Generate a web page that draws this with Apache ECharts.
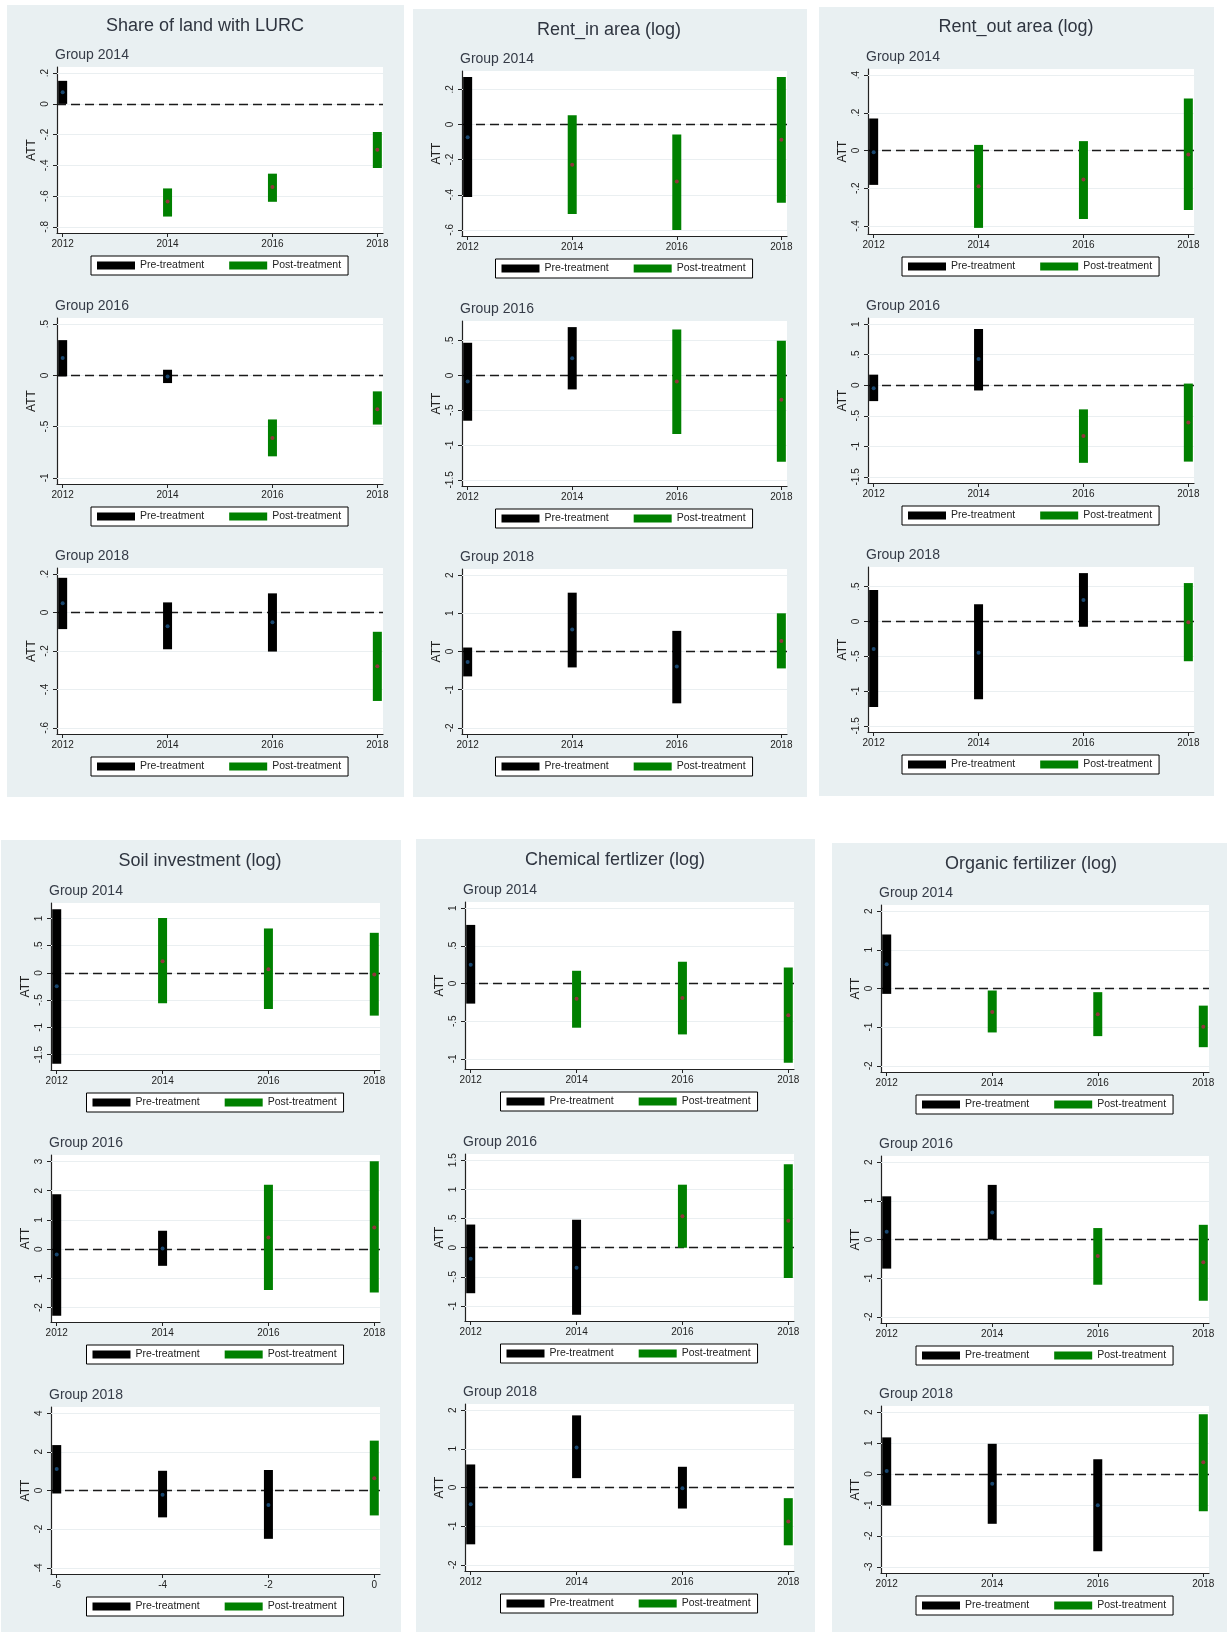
<!DOCTYPE html>
<html>
<head>
<meta charset="utf-8">
<title>Event-study ATT estimates</title>
<script src="https://cdn.jsdelivr.net/npm/echarts@6/dist/echarts.min.js"></script>
<style>
  html, body { margin: 0; padding: 0; background: #ffffff; }
  #wrap { position: relative; width: 1227px; height: 1632px; }
  .panel { position: absolute; background: #e9f0f2; }
  #chart { position: absolute; left: 0; top: 0; width: 1227px; height: 1632px; }
</style>
</head>
<body>
<div id="wrap">
  <div id="chart"></div>
</div>
<script>
// ---------- data ----------
const years = [2012, 2014, 2016, 2018];
const eventTime = [-6, -4, -2, 0];
const groupNames = ['Group 2014', 'Group 2016', 'Group 2018'];
const treatYears = [2014, 2016, 2018];
const outcomeTitles = [
  'Share of land with LURC', 'Rent_in area (log)', 'Rent_out area (log)',
  'Soil investment (log)', 'Chemical fertlizer (log)', 'Organic fertilizer (log)'
];

// Share of land with LURC
const lurcAtt  = [[0.076, -0.635, -0.541, -0.298], [0.17, -0.01, -0.61, -0.33], [0.048, -0.071, -0.05, -0.279]];
const lurcLow  = [[0, -0.733, -0.637, -0.417], [-0.01, -0.075, -0.79, -0.48], [-0.086, -0.191, -0.203, -0.46]];
const lurcHigh = [[0.15, -0.55, -0.454, -0.183], [0.344, 0.055, -0.43, -0.156], [0.181, 0.053, 0.1, -0.1]];
const lurcTicks = [[-0.8, -0.6, -0.4, -0.2, 0, 0.2], [-1, -0.5, 0, 0.5], [-0.6, -0.4, -0.2, 0, 0.2]];

// Rent-in area
const rentInAtt  = [[-0.072, -0.229, -0.324, -0.086], [-0.086, 0.248, -0.086, -0.35], [-0.278, 0.574, -0.39, 0.278]];
const rentInLow  = [[-0.413, -0.51, -0.6, -0.446], [-0.65, -0.2, -0.84, -1.24], [-0.652, -0.417, -1.357, -0.443]];
const rentInHigh = [[0.27, 0.053, -0.057, 0.27], [0.47, 0.695, 0.66, 0.5], [0.104, 1.54, 0.54, 1.0]];
const rentInTicks = [[-0.6, -0.4, -0.2, 0, 0.2], [-1.5, -1, -0.5, 0, 0.5], [-2, -1, 0, 1, 2]];

// Rent-out area
const rentOutAtt  = [[-0.009, -0.189, -0.154, -0.021], [-0.05, 0.43, -0.83, -0.61], [-0.395, -0.448, 0.31, -0.01]];
const rentOutLow  = [[-0.182, -0.41, -0.363, -0.315], [-0.26, -0.086, -1.27, -1.25], [-1.229, -1.119, -0.076, -0.571]];
const rentOutHigh = [[0.17, 0.03, 0.05, 0.276], [0.173, 0.92, -0.395, 0.027], [0.452, 0.248, 0.695, 0.552]];
const rentOutTicks = [[-0.4, -0.2, 0, 0.2, 0.4], [-1.5, -1, -0.5, 0, 0.5, 1], [-1.5, -1, -0.5, 0, 0.5]];

// Soil investment
const soilAtt  = [[-0.245, 0.215, 0.067, -0.03], [-0.18, 0.02, 0.40, 0.745], [1.116, -0.22, -0.755, 0.64]];
const soilLow  = [[-1.67, -0.558, -0.663, -0.785], [-2.28, -0.57, -1.395, -1.48], [-0.155, -1.39, -2.5, -1.29]];
const soilHigh = [[1.17, 1.006, 0.816, 0.736], [1.88, 0.63, 2.2, 3.01], [2.35, 1.02, 1.06, 2.58]];
const soilTicks = [[-1.5, -1, -0.5, 0, 0.5, 1], [-2, -1, 0, 1, 2, 3], [-4, -2, 0, 2, 4]];

// Chemical fertilizer
const chemAtt  = [[0.249, -0.204, -0.191, -0.422], [-0.19, -0.345, 0.54, 0.46], [-0.432, 1.037, -0.017, -0.88]];
const chemLow  = [[-0.267, -0.587, -0.676, -1.053], [-0.78, -1.15, 0.0, -0.517], [-1.47, 0.242, -0.544, -1.495]];
const chemHigh = [[0.778, 0.169, 0.289, 0.213], [0.397, 0.478, 1.08, 1.43], [0.596, 1.866, 0.536, -0.276]];
const chemTicks = [[-1, -0.5, 0, 0.5, 1], [-1, -0.5, 0, 0.5, 1, 1.5], [-2, -1, 0, 1, 2]];

// Organic fertilizer
const orgAtt  = [[0.625, -0.607, -0.668, -0.989], [0.2, 0.70, -0.43, -0.587], [0.098, -0.315, -1.01, 0.38]];
const orgLow  = [[-0.139, -1.137, -1.232, -1.518], [-0.753, 0.0, -1.17, -1.585], [-1.02, -1.609, -2.5, -1.207]];
const orgHigh = [[1.397, -0.052, -0.095, -0.443], [1.117, 1.413, 0.296, 0.38], [1.185, 0.978, 0.478, 1.935]];
const orgTicks = [[-2, -1, 0, 1, 2], [-2, -1, 0, 1, 2], [-3, -2, -1, 0, 1, 2]];

const outcomes = [
  { att: lurcAtt, low: lurcLow, high: lurcHigh, ticks: lurcTicks, xs: [years, years, years], starts: treatYears },
  { att: rentInAtt, low: rentInLow, high: rentInHigh, ticks: rentInTicks, xs: [years, years, years], starts: treatYears },
  { att: rentOutAtt, low: rentOutLow, high: rentOutHigh, ticks: rentOutTicks, xs: [years, years, years], starts: treatYears },
  { att: soilAtt, low: soilLow, high: soilHigh, ticks: soilTicks, xs: [years, years, eventTime], starts: [2014, 2016, 0] },
  { att: chemAtt, low: chemLow, high: chemHigh, ticks: chemTicks, xs: [years, years, years], starts: treatYears },
  { att: orgAtt, low: orgLow, high: orgHigh, ticks: orgTicks, xs: [years, years, years], starts: treatYears }
];

// ---------- layout ----------
const layout = [
  { bg: [7, 5, 397, 792],    title: [205, 26],  left: 57,  width: 326, tops: [67, 318, 568],    height: 166 },
  { bg: [413, 9, 394, 788],  title: [609, 30],  left: 462, width: 325, tops: [71, 321, 569],    height: 165 },
  { bg: [819, 7, 395, 789],  title: [1016, 27], left: 868, width: 326, tops: [69, 318, 567],    height: 165 },
  { bg: [1, 840, 400, 792],  title: [200, 861], left: 51,  width: 329, tops: [903, 1155, 1407], height: 167 },
  { bg: [416, 839, 399, 793],title: [615, 860], left: 465, width: 329, tops: [902, 1154, 1404], height: 167 },
  { bg: [832, 843, 395, 789],title: [1031, 864],left: 881, width: 328, tops: [905, 1156, 1406], height: 167 }
];

const FONT = '"Liberation Sans", Arial, Helvetica, sans-serif';
const PRE_COLOR = '#000000', POST_COLOR = '#008000';
const PRE_DOT = '#1a476f', POST_DOT = '#90353b';
const INK = '#222222';

// Stata-style number labels: .2, -.5, 1.5
function stataNum(v) {
  const s = String(Math.round(v * 100) / 100);
  return s.replace(/^(-?)0\./, '$1.');
}

// panel backgrounds
const wrap = document.getElementById('wrap');
layout.forEach(l => {
  const d = document.createElement('div');
  d.className = 'panel';
  d.style.left = l.bg[0] + 'px'; d.style.top = l.bg[1] + 'px';
  d.style.width = l.bg[2] + 'px'; d.style.height = l.bg[3] + 'px';
  wrap.insertBefore(d, wrap.firstChild);
});

function barRenderer(barColor, dotColor) {
  return function (params, api) {
    const x = api.value(0), lo = api.value(1), hi = api.value(2), att = api.value(3);
    const top = api.coord([x, hi]);
    const bot = api.coord([x, lo]);
    const mid = api.coord([x, att]);
    const w = 9;
    return {
      type: 'group',
      children: [
        { type: 'rect', shape: { x: top[0] - w / 2, y: top[1], width: w, height: bot[1] - top[1] },
          style: { fill: barColor } },
        { type: 'circle', shape: { cx: mid[0], cy: mid[1], r: 2 }, style: { fill: dotColor } }
      ]
    };
  };
}

const titles = [], grids = [], xAxes = [], yAxes = [], legends = [], series = [];

outcomes.forEach((o, p) => {
  const L = layout[p];
  titles.push({
    text: outcomeTitles[p], left: L.title[0], top: L.title[1], padding: 0,
    textAlign: 'center', textVerticalAlign: 'middle',
    textStyle: { fontFamily: FONT, fontSize: 18, fontWeight: 'normal', color: '#2f3540' }
  });
  for (let g = 0; g < 3; g++) {
    const k = grids.length;
    const top = L.tops[g];
    const xs = o.xs[g];
    const ticks = o.ticks[g];
    const lows = o.low[g], highs = o.high[g], atts = o.att[g];

    titles.push({
      text: groupNames[g], left: L.left - 2, top: top - 12, padding: 0,
      textAlign: 'left', textVerticalAlign: 'middle',
      textStyle: { fontFamily: FONT, fontSize: 14, fontWeight: 'normal', color: '#353b47' }
    });

    grids.push({ left: L.left, top: top, width: L.width, height: L.height,
      show: true, backgroundColor: '#ffffff', borderWidth: 0 });

    const xSpan = xs[xs.length - 1] - xs[0];
    const xPad = xSpan * 0.018;
    xAxes.push({
      type: 'value', gridIndex: k, min: xs[0] - xPad, max: xs[xs.length - 1] + xPad,
      axisLine: { show: true, onZero: false, lineStyle: { color: INK, width: 1.2 } },
      axisTick: { show: true, customValues: xs, length: 4, lineStyle: { color: INK } },
      axisLabel: { customValues: xs, formatter: stataNum, fontFamily: FONT, fontSize: 10, color: INK, margin: 6 },
      splitLine: { show: false }
    });

    const lo = Math.min(ticks[0], ...lows);
    const hi = Math.max(ticks[ticks.length - 1], ...highs);
    const yPad = (hi - lo) * 0.04;
    yAxes.push({
      type: 'value', gridIndex: k, min: lo - yPad, max: hi + yPad,
      name: 'ATT', nameLocation: 'middle', nameGap: 19, nameRotate: 90,
      nameTextStyle: { fontFamily: FONT, fontSize: 12, color: INK },
      axisLine: { show: true, onZero: false, lineStyle: { color: INK, width: 1.2 } },
      axisTick: { show: true, customValues: ticks, length: 4, lineStyle: { color: INK } },
      axisLabel: { customValues: ticks, rotate: 90, formatter: stataNum, fontFamily: FONT, fontSize: 10, color: INK, margin: 7 },
      splitLine: { show: false }
    });

    legends.push({
      left: L.left + L.width / 2 - 129, top: top + L.height + 23,
      orient: 'horizontal', selectedMode: false,
      data: [{ name: 'Pre-treatment', icon: 'rect' }, { name: 'Post-treatment', icon: 'rect' }],
      itemWidth: 38, itemHeight: 8, itemGap: 25,
      padding: [4, 7, 4, 6], borderColor: '#000', borderWidth: 1, borderRadius: 0, backgroundColor: '#ffffff',
      textStyle: { fontFamily: FONT, fontSize: 10.5, color: INK }
    });

    // grid lines and the dashed zero reference
    series.push({
      type: 'line', xAxisIndex: k, yAxisIndex: k, silent: true,
      data: [[xs[0], 0]], showSymbol: false, symbol: 'none', lineStyle: { opacity: 0 },
      markLine: {
        silent: true, symbol: 'none', z: 1, animation: false,
        label: { show: false },
        lineStyle: { color: '#eaeff1', width: 1, type: 'solid' },
        data: ticks.map(v => ({ yAxis: v })).concat([
          { yAxis: 0, lineStyle: { color: '#1a1a1a', width: 1.3, type: [9, 5] } }
        ])
      }
    });

    const preData = [], postData = [];
    xs.forEach((x, i) => {
      const item = [x, lows[i], highs[i], atts[i]];
      (x < o.starts[g] ? preData : postData).push(item);
    });
    series.push({
      name: 'Pre-treatment', type: 'custom', xAxisIndex: k, yAxisIndex: k, z: 3,
      itemStyle: { color: PRE_COLOR }, encode: { x: 0, y: [1, 2, 3] },
      renderItem: barRenderer(PRE_COLOR, PRE_DOT), data: preData
    });
    series.push({
      name: 'Post-treatment', type: 'custom', xAxisIndex: k, yAxisIndex: k, z: 3,
      itemStyle: { color: POST_COLOR }, encode: { x: 0, y: [1, 2, 3] },
      renderItem: barRenderer(POST_COLOR, POST_DOT), data: postData
    });
  }
});

const chart = echarts.init(document.getElementById('chart'), null, { renderer: 'canvas', width: 1227, height: 1632 });
chart.setOption({
  animation: false,
  textStyle: { fontFamily: FONT },
  title: titles,
  grid: grids,
  xAxis: xAxes,
  yAxis: yAxes,
  legend: legends,
  series: series
});
</script>
</body>
</html>
